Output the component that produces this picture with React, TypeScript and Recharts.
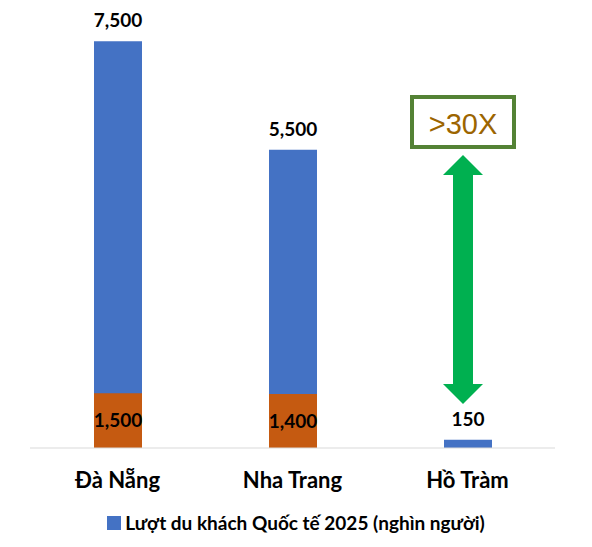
import React from "react";
import { BarChart, Bar, XAxis, YAxis, LabelList } from "recharts";

const categories = ["Đà Nẵng", "Nha Trang", "Hồ Tràm"];
const visitorValues = [7500, 5500, 150];
const visitorLabels = ["7,500", "5,500", "150"];
const domesticValues = [1010, 995, 0];
const domesticLabels = ["1,500", "1,400", ""];
const legendText = "Lượt du khách Quốc tế 2025 (nghìn người)";
const multiplierText = ">30X";

const data = categories.map((c, i) => ({
  name: c,
  visitors: visitorValues[i],
  visitorLabel: visitorLabels[i],
  domestic: domesticValues[i],
  domesticLabel: domesticLabels[i],
}));

const FONT = "Lato, 'Open Sans', sans-serif";
const BLUE = "#4472C4";
const ORANGE = "#C55A11";

export default function App() {
  return (
    <div style={{ position: "relative", width: 592, height: 547, background: "#fff" }}>
      <style>{`body{margin:0;}`}</style>
      <BarChart
        width={592}
        height={547}
        data={data}
        margin={{ top: 14, right: 37, left: 30, bottom: 0 }}
      >
        <XAxis
          xAxisId="a"
          dataKey="name"
          height={99}
          tickLine={false}
          tickSize={0}
          tickMargin={24}
          axisLine={{ stroke: "#D9D9D9", strokeWidth: 1 }}
          tick={{ fontFamily: FONT, fontWeight: 700, fontSize: 22, fill: "#000" }}
        />
        <XAxis xAxisId="b" dataKey="name" hide />
        <YAxis hide domain={[0, 8000]} />
        <Bar xAxisId="a" dataKey="visitors" fill={BLUE} barSize={48} isAnimationActive={false}>
          <LabelList
            dataKey="visitorLabel"
            position="top"
            offset={14}
            style={{ fontFamily: FONT, fontWeight: 700, fontSize: 19, fill: "#000" }}
          />
        </Bar>
        <Bar xAxisId="b" dataKey="domestic" fill={ORANGE} barSize={48} isAnimationActive={false}>
          <LabelList
            dataKey="domesticLabel"
            position="center"
            style={{ fontFamily: FONT, fontWeight: 700, fontSize: 19, fill: "#000" }}
          />
        </Bar>
      </BarChart>
      <div
        style={{
          position: "absolute",
          left: 0,
          top: 512,
          width: 592,
          display: "flex",
          justifyContent: "center",
          alignItems: "center",
          fontFamily: FONT,
          fontWeight: 700,
          fontSize: 19,
          lineHeight: "22px",
          color: "#000",
        }}
      >
        <span style={{ width: 14, height: 14, background: BLUE, display: "inline-block", marginRight: 4 }} />
        <span>{legendText}</span>
      </div>
      <svg
        width={592}
        height={547}
        style={{ position: "absolute", left: 0, top: 0, pointerEvents: "none" }}
      >
        <rect x={412} y={97} width={102} height={50} fill="#fff" stroke="#548235" strokeWidth={4} />
        <text
          x={463}
          y={134}
          textAnchor="middle"
          fontFamily="'Liberation Sans', Arial, sans-serif"
          fontSize={29}
          fill="#9C6500"
        >
          {multiplierText}
        </text>
        <polygon
          points="463,155 483,175 473,175 473,384 483,384 463,404 443,384 453,384 453,175 443,175"
          fill="#00B050"
        />
      </svg>
    </div>
  );
}
